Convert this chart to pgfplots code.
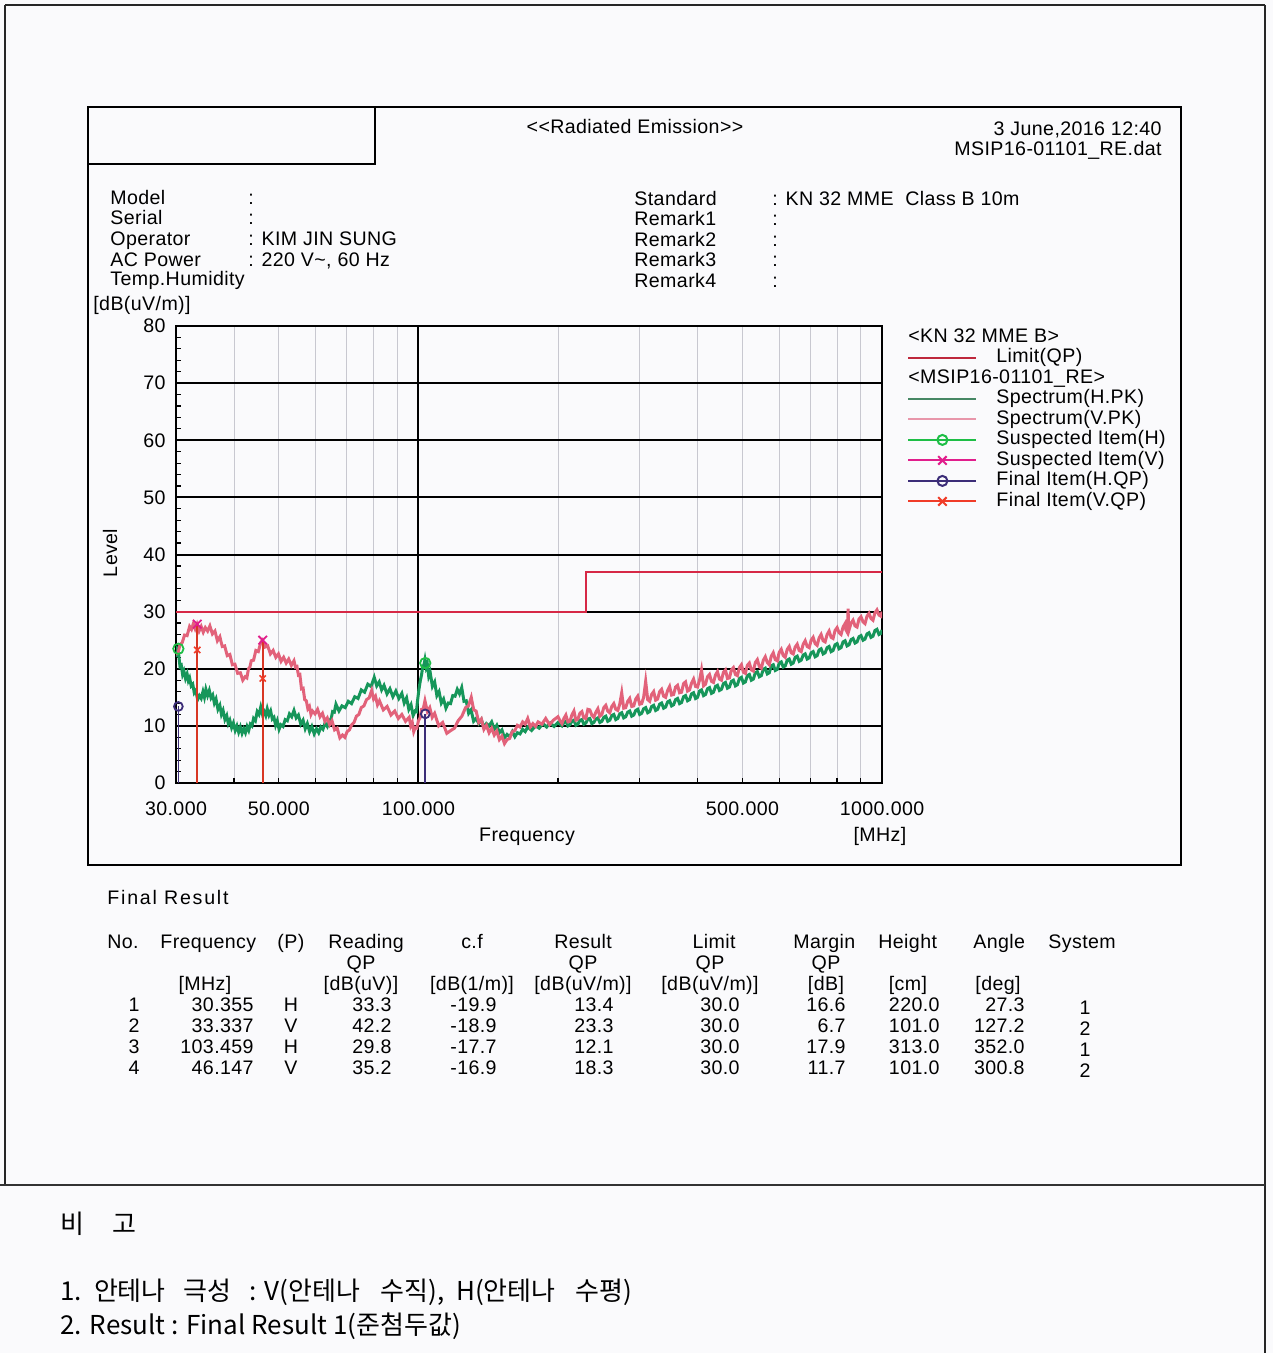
\documentclass[border=0pt]{standalone}
\usepackage{fontspec}
\setmainfont{Liberation Sans}[LetterSpace=2]
\newfontfamily\kr{Noto Sans CJK KR}
\usepackage{pgfplots}
\pgfplotsset{compat=1.18}
\definecolor{bg}{RGB}{250,250,252}
\definecolor{specH}{RGB}{22,150,90}
\definecolor{specV}{RGB}{226,98,122}
\definecolor{limitc}{RGB}{214,40,70}
\definecolor{suspH}{RGB}{30,190,70}
\definecolor{suspV}{RGB}{225,30,140}
\definecolor{finH}{RGB}{60,45,120}
\definecolor{finV}{RGB}{240,60,40}
\definecolor{legH}{RGB}{70,135,100}
\definecolor{legV}{RGB}{232,150,170}
\definecolor{legL}{RGB}{190,40,60}
\definecolor{gridgray}{RGB}{200,200,208}
\begin{document}
\begin{tikzpicture}[font=\fontsize{9.8}{11}\selectfont]
\useasboundingbox (0,0) rectangle (636.5pt,-676.5pt);
\fill[bg] (0,0) rectangle (636.5pt,-676.5pt);
\begin{scope}[x=0.5pt,y=-0.5pt,every node/.style={inner sep=0pt}]
 % frames
 \draw[line width=0.8pt,black!85] (5,5) -- (1265,5);
 \draw[line width=0.8pt,black!85] (5,5) -- (5,1185);
 \draw[line width=0.8pt,black!85] (1265,5) -- (1265,1353);
 \draw[line width=1.4pt,black!80] (0,1185) -- (1265,1185);
 \draw[line width=1.1pt] (88,107) rectangle (1181,865);
 \draw[line width=1.1pt] (88,107) rectangle (375,164);
 % header text
 \node[anchor=base] at (635,134) {{<}{<}Radiated Emission{>}{>}};
 \node[anchor=base east] at (1162,136) {3 June,2016 12:40};
 \node[anchor=base east] at (1162,156) {MSIP16-01101\_RE.dat};
 \node[anchor=base west] at (110,205) {Model};
 \node[anchor=base west] at (110,225) {Serial};
 \node[anchor=base west] at (110,246) {Operator};
 \node[anchor=base west] at (110,267) {AC Power};
 \node[anchor=base west] at (110,286) {Temp.Humidity};
 \node[anchor=base west] at (248,205) {:};
 \node[anchor=base west] at (248,225) {:};
 \node[anchor=base west] at (248,246) {: KIM JIN SUNG};
 \node[anchor=base west] at (248,267) {: 220 V\textasciitilde, 60 Hz};
 \node[anchor=base west] at (634,206) {Standard};
 \node[anchor=base west] at (634,226) {Remark1};
 \node[anchor=base west] at (634,247) {Remark2};
 \node[anchor=base west] at (634,267) {Remark3};
 \node[anchor=base west] at (634,288) {Remark4};
 \node[anchor=base west] at (772,206) {: KN 32 MME\ \ Class B 10m};
 \node[anchor=base west] at (772,226) {:};
 \node[anchor=base west] at (772,247) {:};
 \node[anchor=base west] at (772,267) {:};
 \node[anchor=base west] at (772,288) {:};
 % axis labels
 \node[anchor=base west] at (93,311) {[dB(uV/m)]};
 \node[rotate=90,anchor=center] at (110,553) {Level};
 \node[anchor=base] at (527,841) {Frequency};
 \node[anchor=base] at (880,841) {[MHz]};
 % table
 \node[anchor=base west] at (107,904) {\addfontfeatures{LetterSpace=9}Final Result};
 \node[anchor=base west] at (107,948) {No.};
 \node[anchor=base west] at (160,948) {Frequency};
 \node[anchor=base west] at (277,948) {(P)};
 \node[anchor=base west] at (328,948) {Reading};
 \node[anchor=base] at (472,948) {c.f};
 \node[anchor=base] at (583,948) {Result};
 \node[anchor=base] at (714,948) {Limit};
 \node[anchor=base west] at (793,948) {Margin};
 \node[anchor=base west] at (878,948) {Height};
 \node[anchor=base west] at (973,948) {Angle};
 \node[anchor=base west] at (1048,948) {System};
 \node[anchor=base] at (361,969) {QP};
 \node[anchor=base] at (583,969) {QP};
 \node[anchor=base] at (710,969) {QP};
 \node[anchor=base] at (826,969) {QP};
 \node[anchor=base] at (205,990) {[MHz]};
 \node[anchor=base] at (361,990) {[dB(uV)]};
 \node[anchor=base] at (472,990) {[dB(1/m)]};
 \node[anchor=base] at (583,990) {[dB(uV/m)]};
 \node[anchor=base] at (710,990) {[dB(uV/m)]};
 \node[anchor=base] at (826,990) {[dB]};
 \node[anchor=base] at (908,990) {[cm]};
 \node[anchor=base] at (998,990) {[deg]};
 \foreach \yy/\n/\f/\p/\r/\c/\res/\l/\m/\h/\a/\s in {
   1011/1/30.355/H/33.3/-19.9/13.4/30.0/16.6/220.0/27.3/1,
   1032/2/33.337/V/42.2/-18.9/23.3/30.0/6.7/101.0/127.2/2,
   1053/3/103.459/H/29.8/-17.7/12.1/30.0/17.9/313.0/352.0/1,
   1074/4/46.147/V/35.2/-16.9/18.3/30.0/11.7/101.0/300.8/2}{
   \node[anchor=base] at (134,\yy) {\n};
   \node[anchor=base east] at (254,\yy) {\f};
   \node[anchor=base] at (291,\yy) {\p};
   \node[anchor=base east] at (392,\yy) {\r};
   \node[anchor=base east] at (497,\yy) {\c};
   \node[anchor=base east] at (614,\yy) {\res};
   \node[anchor=base east] at (740,\yy) {\l};
   \node[anchor=base east] at (846,\yy) {\m};
   \node[anchor=base east] at (940,\yy) {\h};
   \node[anchor=base east] at (1025,\yy) {\a};
   \node[anchor=base] at (1085,\yy+3) {\s};
 }
 % remarks
 \node[anchor=base west,font=\kr\fontsize{13}{15}\selectfont] at (60,1233) {비\hspace{14pt}고};
 \node[anchor=base west,font=\kr\fontsize{13}{15}\selectfont] at (60,1300) {1.\hspace{6pt}안테나\hspace{9pt}극성\hspace{9pt}:\hspace{4pt}V(안테나\hspace{10pt}수직),\hspace{6pt}H(안테나\hspace{10pt}수평)};
 \node[anchor=base west,font=\kr\fontsize{13}{15}\selectfont] at (60,1334) {2. Result : Final Result 1(준첨두값)};
\end{scope}
\begin{axis}[at={(88pt,-391.5pt)}, anchor=south west, scale only axis,
  width=353pt, height=228.5pt,
  xmode=log, xmin=30, xmax=1000, ymin=0, ymax=80,
  axis line style={line width=1pt,black},
  xtick={100}, xticklabels={100.000},
  extra x ticks={30,50,500,1000},
  extra x tick labels={30.000,50.000,500.000,1000.000},
  extra x tick style={grid=none,major tick length=0pt},
  minor xtick={40,50,60,70,80,90,200,300,400,500,600,700,800,900},
  xmajorgrids, xminorgrids,
  major x grid style={black,line width=1pt},
  minor x grid style={gridgray,line width=0.4pt},
  ytick={0,10,...,80}, minor y tick num=4, ymajorgrids,
  major y grid style={black,line width=1pt},
  xtick pos=bottom, ytick pos=left, tick align=inside,
  major tick length=4pt, minor tick length=2.5pt,
  tick style={black,line width=0.6pt},
  /pgf/number format/assume math mode=true,
  yticklabel style={anchor=east,inner sep=0pt,xshift=-5pt},
  xticklabel style={anchor=north,inner sep=0pt,yshift=-9pt},
  clip mode=individual,
  legend cell align=left,
  legend style={at={(1,1)},anchor=north west,xshift=12.5pt,yshift=-1pt,
    draw=none,fill=none,inner sep=0pt,row sep=1.25pt,
    nodes={inner sep=0pt,text height=7pt,text depth=2pt}},
  legend image code/.code={\draw[mark repeat=2,mark phase=2,#1] plot coordinates {(0pt,0pt) (17pt,0pt) (34pt,0pt)}; \path[draw=none,fill=none] (0pt,-3pt) rectangle (44pt,3pt);},
]
% spectrum H
\addplot[forget plot,specH,line width=1.5pt] coordinates {
(30,24.0) (30.2,22.4) (30.4,22.5) (30.6,20.4) (30.8,20.6) (31.0,19.0) (31.2,19.6) (31.45,18.3) (31.7,19.1) (31.9,17.9) (32.1,18.4) (32.35,17.0) (32.6,17.3) (32.85,15.8) (33.1,16.2) (33.4,14.6) (33.7,15.3) (34.0,14.8) (34.3,16.0) (34.55,15.0) (34.8,16.4) (35.1,15.3) (35.4,16.2) (35.7,14.9) (36.0,15.4) (36.3,14.0) (36.6,14.7) (36.95,12.9) (37.3,13.6) (37.6,12.0) (37.9,12.7) (38.25,11.1) (38.6,11.8) (38.9,10.4) (39.2,11.0) (39.55,9.7) (39.9,10.5) (40.25,9.2) (40.6,10.0) (40.95,8.9) (41.3,9.8) (41.65,8.7) (42.0,9.5) (42.35,8.8) (42.7,9.9) (43.05,9.2) (43.4,10.3) (43.75,10.0) (44.1,11.3) (44.5,10.9) (44.9,12.5) (45.3,12.0) (45.7,13.3) (46.1,12.0) (46.5,12.5) (46.85,11.8) (47.2,13.0) (47.6,11.9) (48.0,12.6) (48.4,11.2) (48.8,11.5) (49.2,10.1) (49.6,10.9) (50.05,9.4) (50.5,10.2) (51.05,9.9) (51.6,11.1) (52.15,10.9) (52.7,12.1) (53.3,11.6) (53.9,12.7) (54.5,11.4) (55.1,11.9) (55.75,10.3) (56.4,11.0) (57.0,9.5) (57.6,10.4) (58.25,9.0) (58.9,9.9) (59.6,8.6) (60.3,9.5) (60.95,8.8) (61.6,9.8) (62.25,9.4) (62.9,10.5) (63.6,9.9) (64.3,11.0) (64.8,11.2) (65.3,12.5) (65.85,12.4) (66.4,13.8) (67.4,12.6) (68.4,13.5) (69.5,13.2) (70.6,14.3) (71.75,13.9) (72.9,15.1) (74.1,14.8) (75.3,16.3) (76.55,15.9) (77.8,17.3) (79.05,16.9) (80.3,18.5) (81.3,17.0) (82.3,17.7) (83.3,16.3) (84.3,17.1) (85.55,15.6) (86.8,16.5) (88.1,15.1) (89.4,16.1) (90.75,14.8) (92.1,15.7) (93.2,14.0) (94.3,14.9) (95.35,12.9) (96.4,13.7) (97.4,11.8) (98.4,12.6) (99.0,12.5) (99.6,14.5) (100.3,16.5) (101.0,18.0) (101.6,19.0) (102.2,20.5) (102.75,20.6) (103.3,21.6) (103.9,20.3) (104.5,20.9) (105.25,18.7) (106.0,19.4) (107.2,16.9) (108.4,17.7) (109.6,15.3) (110.8,16.0) (112.05,14.0) (113.3,14.7) (114.65,13.1) (116.0,14.0) (117.3,13.9) (118.6,15.3) (119.95,15.2) (121.3,16.4) (122.65,15.6) (124.0,16.7) (125.4,14.3) (126.8,14.4) (128.35,12.2) (129.9,12.8) (131.55,10.8) (133.2,11.3) (134.95,10.4) (136.7,11.1) (138.45,9.7) (140.2,10.4) (142.05,10.0) (143.9,10.7) (145.75,9.4) (147.6,10.1) (149.5,8.8) (151.4,9.3) (153.35,7.9) (155.3,8.5) (157.35,8.1) (159.4,9.0) (161.45,8.1) (163.5,8.8) (165.65,8.6) (167.8,9.4) (169.95,9.0) (172.1,9.8) (175.45,9.2) (178.8,10.0) (182.2,9.6) (185.6,10.4) (189.05,9.8) (192.5,10.5) (196.2,9.9)
(200,10.6) (202,10.3) (204,10.0) (206,10.6) (208,10.8) (210.1,10.0) (212.2,10.2) (214.3,10.8) (216.5,11.0) (218.6,10.1) (220.8,10.3) (223,11.0) (225.2,11.1) (227.4,10.3) (229.7,10.5) (232,11.2) (234.3,11.3) (236.6,10.4) (239,10.6) (241.4,11.2) (243.8,11.4) (246.2,10.6) (248.7,10.8) (251.1,11.5) (253.6,11.7) (256.1,10.8) (258.7,11.0) (261.3,11.8) (263.9,12.0) (266.5,11.1) (269.2,11.3) (271.8,12.1) (274.5,12.3) (277.2,11.4) (280,11.6) (282.8,12.4) (285.6,12.6) (288.5,11.7) (291.4,11.9) (294.3,12.7) (297.2,12.9) (300.1,12.0) (303.1,12.2) (306.1,13.0) (309.2,13.2) (312.3,12.3) (315.4,12.5) (318.5,13.4) (321.7,13.6) (324.9,12.7) (328.1,12.9) (331.4,13.8) (334.7,14.0) (338,13.1) (341.4,13.3) (344.8,14.2) (348.2,14.4) (351.7,13.5) (355.2,13.7) (358.7,14.6) (362.3,14.8) (365.9,13.9) (369.5,14.1) (373.2,15.1) (376.9,15.3) (380.7,14.4) (384.5,14.6) (388.3,15.6) (392.2,15.8) (396.1,14.8) (400,15.0) (404,16.1) (408,16.3) (412.1,15.3) (416.2,15.5) (420.3,16.5) (424.5,16.7) (428.7,15.7) (433,15.9) (437.3,16.9) (441.6,17.1) (446,16.2) (450.5,16.4) (455,17.4) (459.5,17.6) (464.1,16.6) (468.7,16.8) (473.3,17.8) (478,18.0) (482.8,17.0) (487.6,17.2) (492.5,18.3) (497.4,18.5) (502.3,17.5) (507.3,17.7) (512.3,18.8) (517.4,19.0) (522.6,18.0) (527.8,18.2) (533.1,19.3) (538.4,19.5) (543.7,18.6) (549.1,18.8) (554.6,19.9) (560.1,20.1) (565.7,19.1) (571.3,19.3) (577,20.5) (582.7,20.7) (588.5,19.7) (594.4,19.9) (600.3,21.0) (606.3,21.2) (612.3,20.3) (618.4,20.5) (624.6,21.5) (630.8,21.7) (637.1,20.8) (643.4,21.0) (649.8,22.0) (656.3,22.2) (662.8,21.3) (669.4,21.5) (676.1,22.4) (682.8,22.6) (689.6,21.7) (696.5,21.9) (703.4,22.8) (710.4,23.0) (717.5,22.1) (724.6,22.3) (731.8,23.3) (739.1,23.5) (746.5,22.6) (753.9,22.8) (761.4,23.7) (769,23.9) (776.6,23.0) (784.3,23.2) (792.1,24.2) (800,24.4) (808,23.5) (816,23.7) (824.1,24.7) (832.3,24.9) (840.6,24.0) (849,24.2) (857.5,25.1) (866,25.3) (874.6,24.5) (883.3,24.7) (892.1,25.6) (901,25.8) (910,25.0) (919,25.2) (928.2,26.1) (937.4,26.3) (946.7,25.5) (956.1,25.7) (965.6,26.7) (975.2,26.9) (984.9,26.0) (994.7,26.2) (1000,26.8)};
% spectrum V
\addplot[forget plot,specV,line width=1.5pt] coordinates {
(30,22.5) (30.3,22.8) (30.6,24.2) (30.95,24.6) (31.3,25.9) (31.7,25.8) (32.1,27.4) (32.4,26.9) (32.7,27.9) (33.0,27.0) (33.3,27.8) (33.65,26.6) (34.0,27.4) (34.35,26.4) (34.7,27.2) (35.1,26.6) (35.5,27.5) (35.95,26.1) (36.4,26.6) (36.85,24.9) (37.3,25.6) (37.75,23.9) (38.2,24.0) (38.7,22.3) (39.2,22.5) (39.7,20.7) (40.2,20.8) (40.75,19.2) (41.3,19.3) (41.8,18.0) (42.3,18.6) (42.65,18.4) (43.0,20.0) (43.3,20.3) (43.6,21.4) (44.1,21.5) (44.6,23.2) (45.15,23.0) (45.7,24.6) (46.1,25.0) (46.7,23.8) (47.3,24.0) (47.95,22.6) (48.6,23.2) (49.25,22.0) (49.9,22.6) (50.55,21.3) (51.2,22.0) (51.85,21.0) (52.5,21.7) (53.2,20.6) (53.9,21.4) (54.3,20.3) (54.7,20.4) (55.1,18.9) (55.5,19.0) (55.95,16.5) (56.4,16.6) (56.85,14.6) (57.3,14.4) (57.75,13.0) (58.2,13.4) (58.65,12.0) (59.1,12.6) (59.85,12.1) (60.6,12.9) (61.35,11.6) (62.1,12.2) (62.85,10.8) (63.6,11.4) (64.35,10.2) (65.1,10.9) (65.95,9.3) (66.8,9.6) (67.7,7.9) (68.6,8.4) (69.4,8.0) (70.2,9.0) (71.0,9.3) (71.8,10.2) (72.65,10.6) (73.5,11.7) (74.4,12.0) (75.3,13.2) (76.3,13.5) (77.3,14.6) (78.3,14.9) (79.3,16.2) (80.05,14.7) (80.8,15.2) (81.6,13.7) (82.4,14.4) (84.0,12.8) (85.6,13.4) (87.25,11.9) (88.9,12.6) (90.5,11.3) (92.1,12.0) (93.8,10.8) (95.5,11.5) (96.25,10.0) (97.0,10.6) (97.7,9.0) (98.4,9.7) (99.2,9.6) (100.0,10.9) (100.8,11.4) (101.6,12.9) (102.45,13.0) (103.3,14.4) (104.55,12.5) (105.8,13.2) (107.1,11.5) (108.4,12.2) (110.6,10.0) (112.8,10.6) (115.15,8.7) (117.5,9.2) (119.65,9.6) (121.8,10.9) (124.1,11.7) (126.4,13.2) (128.2,13.5) (130.0,15.0) (131.6,12.8) (133.2,12.6) (134.95,10.6) (136.7,11.2) (138.45,9.4) (140.2,10.1) (142.05,8.8) (143.9,9.6) (145.75,8.4) (147.6,9.1) (149.5,7.6) (151.4,8.2) (153.35,6.9) (155.3,7.6) (157.35,7.8) (159.4,9.0) (161.45,9.2) (163.5,10.1) (165.65,9.8) (167.8,10.7) (169.95,10.3) (172.1,11.3) (174.35,9.8) (176.6,10.4) (178.9,9.9) (181.2,10.7) (184.7,10.3) (188.2,11.3) (191.85,10.2) (195.5,11.0)
(200,11.6) (202,10.9) (204,10.4) (206,11.3) (208,11.9) (210.1,10.7) (212.2,10.8) (214.3,11.9) (216.5,12.6) (218.6,11.0) (220.8,11.2) (223,12.2) (225.2,12.5) (227.4,11.4) (229.7,11.3) (232,12.9) (234.3,12.8) (236.6,11.9) (239,11.5) (241.4,12.4) (243.8,13.0) (246.2,11.7) (248.7,12.0) (251.1,13.2) (253.6,13.6) (256.1,12.6) (258.7,12.3) (261.3,13.4) (263.9,13.9) (266.5,12.9) (269.2,12.7) (271.8,13.8) (274.5,15.8) (277.2,13.1) (280,13.2) (282.8,14.3) (285.6,14.8) (288.5,13.4) (291.4,13.5) (294.3,14.7) (297.2,15.2) (300.1,13.8) (303.1,13.9) (306.1,15.0) (309.2,17.8) (312.3,14.6) (315.4,14.3) (318.5,15.5) (321.7,16.0) (324.9,14.5) (328.1,14.7) (331.4,16.0) (334.7,16.4) (338,15.2) (341.4,15.0) (344.8,16.2) (348.2,16.9) (351.7,15.4) (355.2,15.5) (358.7,16.8) (362.3,17.1) (365.9,15.8) (369.5,15.9) (373.2,17.4) (376.9,17.7) (380.7,16.1) (384.5,16.3) (388.3,17.5) (392.2,18.2) (396.1,16.9) (400,16.8) (404,18.0) (408,19.8) (412.1,17.0) (416.2,17.3) (420.3,18.6) (424.5,19.0) (428.7,17.8) (433,17.6) (437.3,18.9) (441.6,19.5) (446,18.2) (450.5,18.0) (455,19.4) (459.5,19.8) (464.1,18.3) (468.7,18.4) (473.3,19.8) (478,20.2) (482.8,19.0) (487.6,18.8) (492.5,20.2) (497.4,20.7) (502.3,19.4) (507.3,19.2) (512.3,20.6) (517.4,21.0) (522.6,19.8) (527.8,19.6) (533.1,21.1) (538.4,21.6) (543.7,20.4) (549.1,20.1) (554.6,21.5) (560.1,22.1) (565.7,21.1) (571.3,20.7) (577,22.2) (582.7,22.8) (588.5,21.6) (594.4,21.4) (600.3,22.9) (606.3,23.4) (612.3,22.3) (618.4,22.0) (624.6,23.4) (630.8,23.9) (637.1,22.8) (643.4,22.6) (649.8,23.8) (656.3,24.3) (662.8,23.2) (669.4,23.0) (676.1,24.3) (682.8,24.9) (689.6,23.9) (696.5,23.7) (703.4,25.0) (710.4,25.5) (717.5,24.4) (724.6,24.1) (731.8,25.4) (739.1,26.0) (746.5,24.9) (753.9,24.7) (761.4,26.0) (769,26.6) (776.6,25.5) (784.3,25.3) (792.1,26.7) (800,27.2) (808,26.3) (816,26.0) (824.1,27.3) (832.3,27.9) (836,26.8) (840,26.5) (843,28.0) (845,30.5) (847,27.6) (849,26.8) (857.5,28.0) (866,28.5) (874.6,27.5) (883.3,27.3) (892.1,28.7) (901,29.1) (910,28.2) (919,27.9) (928.2,29.2) (937.4,29.7) (946.7,28.8) (956.1,28.5) (965.6,29.8) (975.2,30.3) (984.9,29.4) (994.7,29.2) (1000,30.0)};
% limit
\addplot[forget plot,limitc,line width=0.9pt] coordinates {(30,30) (230,30) (230,37) (1000,37)};
% stems
\addplot[forget plot,ycomb,finV!90!black,line width=0.8pt] coordinates {(33.337,27.8) (46.147,25.0)};
\addplot[forget plot,ycomb,finH,line width=0.8pt] coordinates {(30.355,13.4) (103.459,12.1)};
% markers
\addplot[forget plot,only marks,suspH,mark=o,mark size=2.6pt,line width=0.9pt] coordinates {(30.355,23.5) (103.459,21.0)};
\addplot[forget plot,only marks,suspV,mark=x,mark size=3pt,line width=0.9pt] coordinates {(33.337,27.8) (46.147,25.0)};
\addplot[forget plot,only marks,finH,mark=o,mark size=2.2pt,line width=0.9pt] coordinates {(30.355,13.4) (103.459,12.1)};
\addplot[forget plot,only marks,finV,mark=x,mark size=2.2pt,line width=0.8pt] coordinates {(33.337,23.3) (46.147,18.3)};
% legend
\addlegendimage{empty legend}\addlegendentry{\hspace{-44pt}<KN 32 MME B>}
\addlegendimage{legL,line width=1pt}\addlegendentry{Limit(QP)}
\addlegendimage{empty legend}\addlegendentry{\hspace{-44pt}<MSIP16-01101\_RE>}
\addlegendimage{legH,line width=1pt}\addlegendentry{Spectrum(H.PK)}
\addlegendimage{legV,line width=1pt}\addlegendentry{Spectrum(V.PK)}
\addlegendimage{suspH,line width=1pt,mark=o,mark size=2.5pt}\addlegendentry{Suspected Item(H)}
\addlegendimage{suspV,line width=1pt,mark=x,mark size=3pt}\addlegendentry{Suspected Item(V)}
\addlegendimage{finH,line width=1pt,mark=o,mark size=2.5pt}\addlegendentry{Final Item(H.QP)}
\addlegendimage{finV,line width=1pt,mark=x,mark size=3pt}\addlegendentry{Final Item(V.QP)}
\end{axis}
\end{tikzpicture}
\end{document}
